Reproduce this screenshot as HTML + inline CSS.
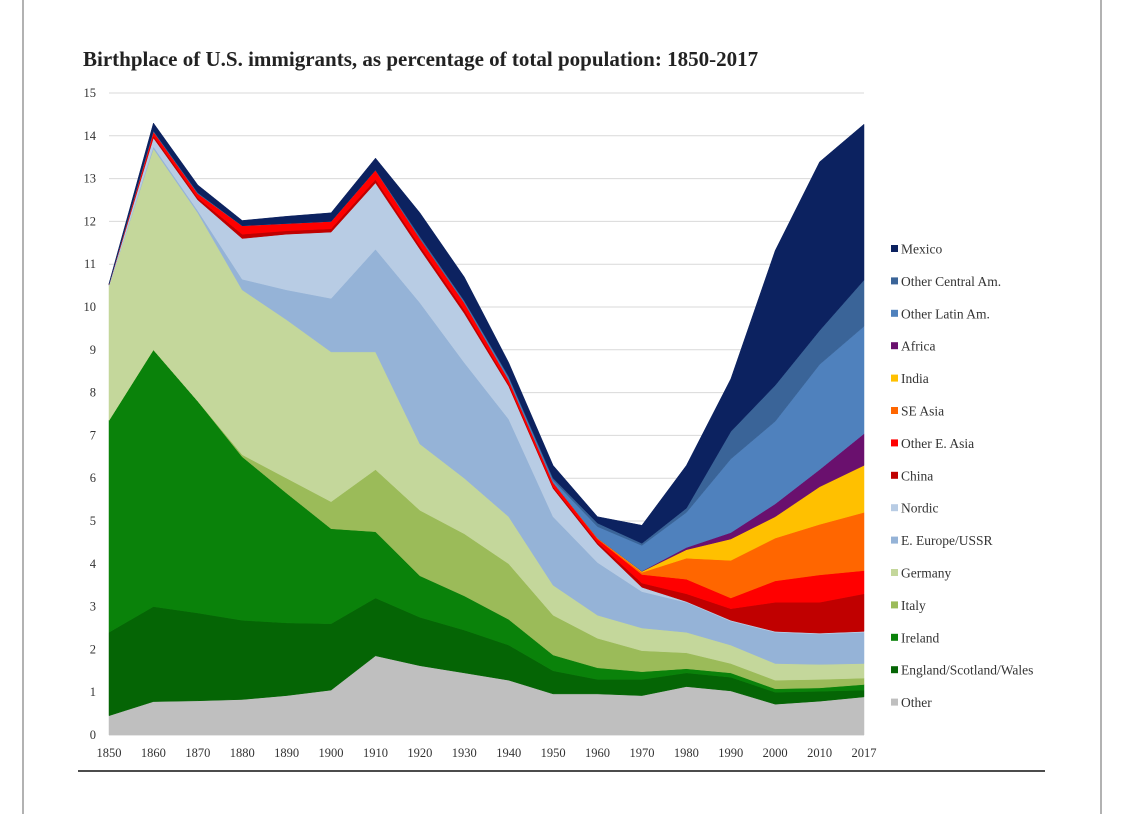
<!DOCTYPE html>
<html><head><meta charset="utf-8"><style>
html,body{margin:0;padding:0;background:#fff;}
svg{display:block;font-family:"Liberation Serif",serif;}
</style></head><body>
<svg id="chart" width="1125" height="814" viewBox="0 0 1125 814">
<defs><clipPath id="legclip"><rect x="880" y="200" width="165" height="540"/></clipPath></defs>
<line x1="23" y1="0" x2="23" y2="814" stroke="#999" stroke-width="1.5"/>
<line x1="1101" y1="0" x2="1101" y2="814" stroke="#999" stroke-width="1.5"/>
<text x="83" y="66" font-size="21" font-weight="bold" fill="#222">Birthplace of U.S. immigrants, as percentage of total population: 1850-2017</text>
<g id="grid"></g>
<g id="areas"></g>
<g id="yticks"></g>
<g id="xticks"></g>
<g id="legend" clip-path="url(#legclip)"></g>
<line x1="78" y1="771" x2="1045" y2="771" stroke="#111" stroke-width="1.5"/>
</svg>
<script>
const years = ["1850","1860","1870","1880","1890","1900","1910","1920","1930","1940","1950","1960","1970","1980","1990","2000","2010","2017"];
const yTicks = [0,1,2,3,4,5,6,7,8,9,10,11,12,13,14,15];
const seriesNames = ["Other","England/Scotland/Wales","Ireland","Italy","Germany","E. Europe/USSR","Nordic","China","Other E. Asia","SE Asia","India","Africa","Other Latin Am.","Other Central Am.","Mexico"];
const seriesColors = ["#bfbfbf","#056505","#0a820a","#9bbb59","#c4d79b","#95b3d7","#b8cce4","#c00000","#ff0000","#ff6600","#ffc000","#6a106e","#4f81bd","#3a6498","#0c2260"];
const other    = [0.45,0.78,0.8,0.83,0.92,1.05,1.85,1.62,1.45,1.28,0.96,0.96,0.92,1.13,1.03,0.72,0.79,0.89];
const esw      = [1.95,2.22,2.05,1.85,1.70,1.55,1.35,1.13,1.00,0.82,0.54,0.34,0.38,0.32,0.32,0.28,0.23,0.16];
const ireland  = [4.95,6.0,4.95,3.82,3.03,2.22,1.55,0.97,0.80,0.60,0.37,0.27,0.18,0.10,0.10,0.08,0.08,0.13];
const italy    = [0,0,0,0.05,0.35,0.63,1.45,1.53,1.45,1.30,0.93,0.69,0.49,0.37,0.22,0.20,0.20,0.15];
const germany  = [3.15,4.7,4.4,3.85,3.7,3.5,2.75,1.55,1.3,1.1,0.7,0.54,0.53,0.48,0.43,0.39,0.35,0.34];
const eEurope  = [0,0.05,0.05,0.25,0.7,1.25,2.4,3.3,2.7,2.28,1.6,1.23,0.85,0.7,0.56,0.73,0.71,0.73];
const nordic   = [0.02,0.2,0.25,0.95,1.3,1.55,1.55,1.25,1.15,0.77,0.66,0.42,0.10,0.02,0.02,0.02,0.02,0.02];
const china    = [0,0.05,0.05,0.1,0.08,0.08,0.08,0.08,0.08,0.05,0.04,0.05,0.1,0.18,0.27,0.68,0.72,0.88];
const otherEAsia=[0.01,0.1,0.1,0.2,0.17,0.17,0.22,0.17,0.17,0.1,0.1,0.08,0.2,0.34,0.25,0.5,0.64,0.54];
const seAsia   = [0,0,0,0,0,0,0,0,0,0,0,0.02,0.05,0.49,0.88,1.0,1.18,1.36];
const india    = [0,0,0,0,0,0,0,0,0,0,0,0,0.02,0.2,0.5,0.5,0.88,1.1];
const africa   = [0,0,0,0,0,0,0,0,0,0,0,0,0.01,0.05,0.15,0.3,0.4,0.74];
const otherLatin=[0,0,0,0,0,0,0,0,0.02,0.05,0.05,0.27,0.6,0.82,1.72,1.93,2.46,2.51];
const otherCentral=[0,0.02,0.02,0,0,0,0,0.05,0.03,0.03,0.05,0.08,0.05,0.1,0.64,0.84,0.79,1.08];
const mexico   = [0.02,0.18,0.18,0.12,0.17,0.2,0.28,0.55,0.55,0.32,0.3,0.15,0.42,1.0,1.23,3.15,3.94,3.64];
const seriesValues = [other,esw,ireland,italy,germany,eEurope,nordic,china,otherEAsia,seAsia,india,africa,otherLatin,otherCentral,mexico];

const NS="http://www.w3.org/2000/svg";
const X0=109, X1=864, Y0=735, Y15=93;
const xPos=i=>X0+(X1-X0)*i/(years.length-1);
const yPos=v=>Y0-(Y0-Y15)*v/15;
function mk(tag,attrs,parent){const e=document.createElementNS(NS,tag);for(const k in attrs)e.setAttribute(k,attrs[k]);parent.appendChild(e);return e;}
const grid=document.getElementById('grid'), areas=document.getElementById('areas'), yt=document.getElementById('yticks'), xt=document.getElementById('xticks'), lg=document.getElementById('legend');
yTicks.forEach(t=>{
  const l=mk('line',{x1:X0,x2:X1,y1:yPos(t),y2:yPos(t),stroke:'#d9d9d9','stroke-width':1},grid);
  
  
  const tx=mk('text',{x:96,y:yPos(t)+4,'text-anchor':'end','font-size':12.5,fill:'#333'},yt);
  tx.textContent=t;
  
  
});
years.forEach((y,i)=>{
  const tx=mk('text',{x:xPos(i),y:757,'text-anchor':'middle','font-size':12.5,fill:'#333'},xt);
  tx.textContent=y;
  
  
});
let base=years.map(()=>0);
seriesValues.forEach((vals,s)=>{
  const top=base.map((b,i)=>b+vals[i]);
  let d='';
  top.forEach((v,i)=>{d+=(i?'L':'M')+xPos(i).toFixed(1)+','+yPos(v).toFixed(1);});
  for(let i=base.length-1;i>=0;i--) d+='L'+xPos(i).toFixed(1)+','+yPos(base[i]).toFixed(1);
  const p=mk('path',{d:d+'Z',fill:seriesColors[s],stroke:seriesColors[s],'stroke-width':0.5},areas);
  
  
  base=top;
});
for(let s=seriesNames.length-1;s>=0;s--){
  const row=seriesNames.length-1-s;
  const y=249+row*32.4;
  const g=mk('g',{},lg);
  
  
  mk('rect',{x:891,y:y-4,width:7,height:7,fill:seriesColors[s]},g);
  const tx=mk('text',{x:901,y:y+4.5,'font-size':13.5,fill:'#333'},g);
  tx.textContent=seriesNames[s];
}
</script>
</body></html>
